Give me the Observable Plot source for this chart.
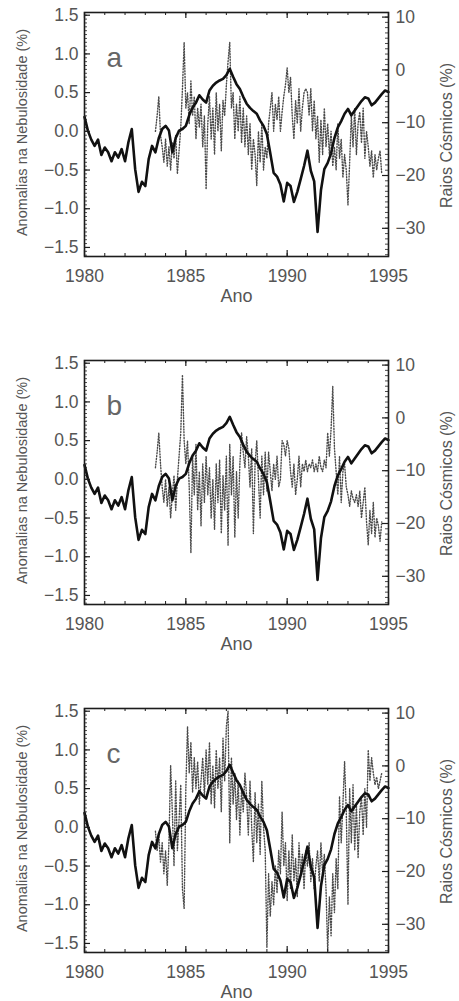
<!DOCTYPE html>
<html><head><meta charset="utf-8">
<script src="https://cdn.jsdelivr.net/npm/d3@7"></script>
<script src="https://cdn.jsdelivr.net/npm/@observablehq/plot@0.6"></script>
<style>
html,body{margin:0;padding:0;background:#fff;overflow:hidden;}
#chart{position:relative;width:459px;height:1001px;}
#chart svg{position:absolute;left:0;}
</style></head><body><div id="chart"></div>
<script>
// ---- data ----
const yearTicks = [1980, 1985, 1990, 1995];
const cloudTicks = [-1.5, -1.0, -0.5, 0.0, 0.5, 1.0, 1.5];
const cosmicTicks = [10, 0, -10, -20, -30];
const panelLabels = ["a", "b", "c"];
const xTitle = "Ano";
const leftTitle = "Anomalias na Nebulosidade (%)";
const rightTitle = "Raios Cósmicos (%)";

// cosmic rays (%), every 2 months from 1980.0
const cosmicStart = 1980, cosmicPerYear = 6;
const cosmic = [
  -8.9, -11.5, -13.2, -14.4, -13.2, -16.1,
  -14.7, -15.6, -17.3, -15.6, -16.6, -15.0,
  -17.3, -13.7, -11.2, -18.8, -23.1, -21.2,
  -22.0, -16.9, -14.4, -15.6, -12.9, -11.2,
  -10.6, -11.5, -15.6, -12.9, -11.5, -11.2,
  -10.6, -8.6, -7.1, -6.2, -4.8, -5.6,
  -6.2, -3.9, -3.0, -2.4, -2.0, -1.7,
  -1.0, 0.2, -1.3, -2.7, -3.6, -5.1,
  -6.4, -7.2, -7.8, -8.3, -9.6, -10.6,
  -12.2, -15.8, -19.5, -20.2, -21.7, -24.9,
  -21.4, -22.0, -25.0, -23.1, -20.7, -18.2,
  -15.3, -19.1, -21.1, -30.7, -22.8, -18.8,
  -17.6, -15.8, -12.9, -10.9, -9.7, -8.3,
  -7.4, -8.6, -7.7, -6.8, -5.9, -5.2,
  -5.4, -6.7, -6.2, -5.4, -4.6, -3.9,
  -4.2
];

// cloud anomalies (%), monthly from mid-1983
const cloudStart = 1983.5, cloudPerYear = 12;
const cloudA = [
  0.0, 0.2, 0.45, -0.05, -0.2, -0.4,
  -0.1, -0.45, -0.2, -0.5, -0.15, -0.35, -0.05, -0.55, -0.25, 0.05, 0.55, 1.15,
  0.3, 0.5, 0.1, 0.65, 0.2, 0.45, -0.1, 0.3, 0.05, 0.35, -0.2, 0.2,
  -0.75, 0.1, 0.45, -0.1, 0.3, -0.3, 0.5, 0.0, 0.35, -0.25, 0.4, 0.2,
  0.6, 0.9, 1.15, 0.3, 0.5, -0.1, 0.35, 0.0, 0.45, -0.15, 0.3, -0.2,
  0.2, -0.3, 0.1, -0.5, -0.1, -0.3, -0.7, 0.0, -0.4, 0.1, -0.5, -0.2,
  -0.35, 0.1, 0.3, 0.5, 0.0, 0.35, 0.15, 0.45, 0.0, 0.25, 0.45, 0.6,
  0.82, 0.5, 0.7, 0.2, -0.1, 0.4, 0.1, 0.55, 0.0, 0.3, 0.5, 0.55,
  0.5, 0.2, 0.55, 0.0, 0.4, -0.1, 0.2, -0.4, 0.15, -0.3, 0.3, -0.2,
  0.1, -0.3, 0.0, -0.45, -0.2, -0.5, 0.1, -0.35, -0.1, -0.6, -0.3, -0.5,
  -0.95, -0.4, 0.2, -0.2, 0.3, -0.3, 0.1, 0.25, -0.15, 0.3, -0.35, 0.0,
  -0.2, -0.45, -0.25, -0.6, -0.3, -0.5, -0.35, -0.25, -0.55
];
const cloudB = [
  0.15, 0.35, 0.6, 0.2, -0.1, -0.3,
  0.0, -0.35, -0.1, -0.5, -0.2, 0.05, -0.4, 0.0, 0.3, 0.6, 1.35, 0.5,
  0.2, 0.5, -0.1, -0.95, 0.3, -0.2, 0.45, -0.4, 0.1, -0.6, 0.2, -0.3,
  0.3, -0.2, 0.15, -0.5, 0.0, -0.65, 0.2, -0.3, 0.25, -0.7, 0.05, -0.4,
  0.3, -0.85, 0.45, -0.2, 0.3, -0.75, 0.1, -0.5, 0.2, 0.6, 0.35, 0.15,
  0.55, 0.3, -0.1, 0.4, -0.7, 0.2, 0.5, 0.0, -0.5, 0.3, -0.2, 0.35,
  -0.15, 0.35, 0.1, -0.15, 0.2, 0.0, 0.3, -0.1, 0.0, 0.5, 0.45, 0.3,
  0.5, 0.4, 0.1, -0.1, 0.2, -0.2, 0.0, 0.3, -0.1, 0.2, 0.1, 0.25,
  0.1, 0.2, 0.15, 0.25, 0.1, 0.2, 0.1, 0.3, 0.15, 0.1, 0.25, 0.15,
  0.6, 0.3, 0.65, 1.2, 0.4, 0.1, -0.2, 0.3, -0.3, 0.1, 0.2, -0.1,
  -0.2, -0.35, -0.15, -0.25, -0.3, -0.2, -0.35, -0.15, -0.5, -0.3, -0.1, -0.55,
  -0.85, -0.4, -0.7, -0.3, -0.75, -0.5, -0.6, -0.8, -0.55
];
const cloudC = [
  -0.05, -0.3, -0.1, -0.45, -0.2, -0.6,
  -0.3, -0.75, -0.2, 0.8, 0.2, -0.5, 0.6, -0.3, 0.1, 0.55, -0.8, -1.05,
  0.5, 1.3, 0.7, 1.1, 0.45, 0.9, 0.5, 0.85, 0.3, 0.6, 0.9, 0.4,
  1.0, 0.55, 1.1, 0.3, 0.8, 0.25, 1.0, 0.5, 0.9, 0.2, 1.15, 0.6,
  1.3, 1.5, -0.2, 0.9, 0.3, 0.7, 0.1, 0.6, -0.1, 0.5, 0.2, 0.7,
  0.4, -0.1, 0.6, 0.0, -0.45, 0.45, -0.2, 0.3, -0.35, 0.6, 0.0, -0.3,
  -1.55, -0.6, -1.15, -0.7, -1.0, -0.5, -0.85, -0.3, -0.6, 0.2, -0.5, -0.2,
  -0.95, -0.3, -0.8, -0.1, -0.7, -0.4, -0.9, -0.2, -0.6, -0.35, -0.8, -0.3,
  -0.5, -0.2, -0.7, -0.4, -0.8, -0.5, -0.3, -0.7, -0.2, -0.6, -0.35, -0.8,
  -1.6, -0.9, -1.4, -0.6, -1.1, -0.4, -0.8, 0.4, -0.2, 0.3, 0.85, 0.2,
  -1.0, 0.5, -0.2, 0.55, -0.3, 0.3, -0.4, 0.2, 0.4, -0.1, 0.5, 0.0,
  1.0, 0.6, 0.9, 0.7, 0.55, 0.65, 0.5, 0.6, 0.7
];
const cloudSeries = [cloudA, cloudB, cloudC];

// ---- layout ----
const W = 459, H = 305;
const mT = 12, mB = 49, mL = 84, mR = 71;
const PW = W - mL - mR, PH = H - mT - mB;
const panelTops = [0, 348, 696];
const Y_DOMAIN = [-1.617, 1.535];
const CR_DOMAIN = [-35.34, 10.87];
const toLeft = d3.scaleLinear().domain(CR_DOMAIN).range(Y_DOMAIN);
const cloudMinor = d3.range(-32, 31).map(i => i * 0.05);
const cosmicMinor = d3.range(-35, 11);
const yearMinor = d3.range(1980, 1996);
const fmtInt = n => (n < 0 ? "\u2212" + (-n) : String(n));
const ink = "#1c1c1c", txt = "#555";

const cosmicRows = cosmic.map((v, i) => ({t: cosmicStart + i / cosmicPerYear, v}));

function panel(label, cloud) {
  const cloudRows = cloud.map((v, i) => ({t: cloudStart + i / cloudPerYear, v}));
  return Plot.plot({
    width: W, height: H,
    marginTop: mT, marginBottom: mB, marginLeft: mL, marginRight: mR,
    x: {domain: [1980, 1995]},
    y: {domain: Y_DOMAIN},
    style: {fontFamily: "'Liberation Sans', Arial, sans-serif", fontSize: "17.5px", color: txt, background: "white", overflow: "visible"},
    marks: [
      Plot.line(cloudRows, {x: "t", y: "v", stroke: "#4a4a4a", strokeWidth: 1.4, strokeDasharray: "1 1.8"}),
      Plot.line(cosmicRows, {x: "t", y: d => toLeft(d.v), stroke: "#111", strokeWidth: 2.6, strokeLinejoin: "round"}),
      Plot.tickY(cloudMinor, {y: d => d, insetRight: PW - 3, stroke: ink, strokeWidth: 0.8}),
      Plot.tickY(cloudTicks, {y: d => d, insetRight: PW - 6, stroke: ink, strokeWidth: 1.2}),
      Plot.tickY(cosmicMinor.map(d => toLeft(d)), {y: d => d, insetLeft: PW - 3, stroke: ink, strokeWidth: 0.8}),
      Plot.tickY(cosmicTicks.map(d => toLeft(d)), {y: d => d, insetLeft: PW - 6, stroke: ink, strokeWidth: 1.2}),
      Plot.tickX(yearMinor, {x: d => d, insetTop: PH - 3, stroke: ink, strokeWidth: 1}),
      Plot.tickX(yearMinor, {x: d => d, insetBottom: PH - 3, stroke: ink, strokeWidth: 1}),
      Plot.tickX(yearTicks, {x: d => d, insetTop: PH - 6, stroke: ink, strokeWidth: 1.2}),
      Plot.tickX(yearTicks, {x: d => d, insetBottom: PH - 6, stroke: ink, strokeWidth: 1.2}),
      Plot.frame({stroke: ink, strokeWidth: 1.6}),
      Plot.axisX(yearTicks, {tickSize: 0, tickPadding: 13, tickFormat: d => String(d), label: null}),
      Plot.axisY(cloudTicks, {tickSize: 0, tickPadding: 6, tickFormat: d3.format(".1f"), label: null}),
      Plot.axisY(cosmicTicks.map(d => toLeft(d)), {anchor: "right", tickSize: 0, tickPadding: 7,
        tickFormat: d => fmtInt(Math.round(toLeft.invert(d))), label: null}),
      Plot.text([xTitle], {text: d => d, frameAnchor: "bottom", textAnchor: "middle", lineAnchor: "bottom", dy: 45, fontSize: 18, fill: txt}),
      Plot.text([leftTitle], {text: d => d, frameAnchor: "left", textAnchor: "middle", lineAnchor: "middle", rotate: -90, dx: -62, dy: -2, fontSize: 14.5, fill: txt}),
      Plot.text([rightTitle], {text: d => d, frameAnchor: "right", textAnchor: "middle", lineAnchor: "middle", rotate: -90, dx: 58, dy: 1, fontSize: 16, fill: txt}),
      Plot.text([label], {text: d => d, frameAnchor: "top-left", textAnchor: "start", lineAnchor: "middle", dx: 22, dy: 46, fontSize: 28, fill: "#666"})
    ]
  });
}

const root = document.getElementById("chart");
panelLabels.forEach((lab, k) => {
  const svg = panel(lab, cloudSeries[k]);
  svg.style.top = panelTops[k] + "px";
  root.appendChild(svg);
});
</script></body></html>
